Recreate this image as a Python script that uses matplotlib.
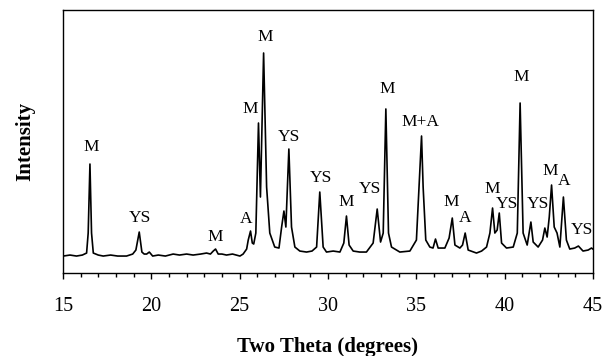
import numpy as np
import matplotlib.pyplot as plt

# traced XRD pattern (2theta in degrees, intensity in arbitrary units)
two_theta = [
    15.02, 15.40, 15.77, 16.10, 16.34, 16.43, 16.53, 16.62, 16.72, 17.00,
    17.28, 17.70, 18.10, 18.60, 18.95, 19.13, 19.32, 19.47, 19.60, 19.74,
    19.89, 20.08, 20.40, 20.80, 21.24, 21.60, 22.00, 22.37, 22.80, 23.13,
    23.35, 23.51, 23.64, 23.79, 24.00, 24.26, 24.60, 25.02, 25.20, 25.40,
    25.49, 25.62, 25.72, 25.80, 25.92, 26.07, 26.18, 26.36, 26.53, 26.71,
    26.99, 27.23, 27.38, 27.51, 27.62, 27.79, 27.94, 28.13, 28.41, 28.79,
    29.10, 29.36, 29.54, 29.73, 29.92, 30.30, 30.68, 30.90, 31.05, 31.20,
    31.43, 31.80, 32.18, 32.56, 32.79, 32.98, 33.13, 33.28, 33.43, 33.60,
    34.07, 34.64, 35.01, 35.16, 35.30, 35.39, 35.54, 35.77, 35.95, 36.09,
    36.24, 36.62, 36.86, 37.04, 37.19, 37.47, 37.62, 37.77, 37.94, 38.41,
    38.70, 38.98, 39.17, 39.32, 39.45, 39.58, 39.70, 39.83, 40.11, 40.49,
    40.72, 40.88, 41.05, 41.28, 41.49, 41.62, 41.90, 42.15, 42.28, 42.41,
    42.53, 42.66, 42.81, 42.97, 43.13, 43.33, 43.50, 43.69, 43.97, 44.18,
    44.44, 44.73, 44.92, 45.00,
]
intensity = [
    19, 20, 19, 20, 22, 42, 111, 42, 22, 20,
    19, 20, 19, 19, 21, 25, 43, 23, 21, 21,
    23, 19, 20, 19, 21, 20, 21, 20, 21, 22,
    21, 24, 26, 21, 21, 20, 21, 19, 21, 26,
    35, 44, 32, 31, 42, 152, 78, 222, 88, 42,
    28, 27, 48, 64, 48, 126, 48, 28, 24, 23,
    24, 28, 83, 28, 23, 24, 23, 32, 59, 30,
    24, 23, 23, 32, 66, 33, 42, 166, 42, 28,
    23, 24, 35, 88, 139, 88, 35, 28, 27, 36,
    27, 27, 37, 57, 30, 27, 30, 42, 25, 22,
    24, 28, 42, 67, 42, 45, 62, 32, 27, 28,
    42, 172, 42, 30, 53, 33, 28, 35, 47, 38,
    58, 90, 48, 42, 28, 78, 35, 26, 27, 29,
    24, 25, 27, 26,
]

# peak assignments
peak_labels = ["M", "YS", "M", "A", "M", "M", "YS", "YS", "M", "YS", "M",
               "M+A", "M", "A", "M", "YS", "M", "YS", "M", "A", "YS"]
label_x = [16.58, 19.35, 23.60, 25.36, 25.62, 26.43, 27.77, 29.58, 31.02,
           32.37, 33.38, 35.24, 37.00, 37.77, 39.28, 40.11, 40.92, 41.90,
           42.56, 43.37, 44.36]
label_y = [128, 57, 38, 56, 166, 238, 138, 97, 73, 86, 186, 153, 73, 57,
           86, 71, 198, 71, 104, 94, 45]

fig = plt.figure(figsize=(6.05, 3.56), dpi=100)
ax = fig.add_axes([0.104, 0.233, 0.876, 0.739])

ax.plot(two_theta, intensity, color='black', lw=1.2)

for txt, x, y in zip(peak_labels, label_x, label_y):
    ax.text(x, y, txt, ha='center', va='center', fontsize=12.5,
            family='Liberation Serif')

ax.set_xlim(15, 45)
ax.set_ylim(2, 265)
ax.set_xticks(np.arange(15, 46, 5))
ax.set_xticks(np.arange(15, 46, 1), minor=True)
ax.set_yticks([])
ax.tick_params(axis='x', which='major', direction='out', length=4.5, width=1,
               labelsize=14.5, pad=13)
ax.tick_params(axis='x', which='minor', direction='out', length=3, width=1)
for lbl in ax.get_xticklabels():
    lbl.set_family('Liberation Serif')
for s in ax.spines.values():
    s.set_linewidth(1.0)

ax.set_xlabel('Two Theta (degrees)', family='Liberation Serif',
              fontweight='bold', fontsize=15, labelpad=15)
ax.set_ylabel('Intensity', family='Liberation Serif', fontweight='bold',
              fontsize=15, labelpad=20)

fig.savefig('out.png', dpi=100)
